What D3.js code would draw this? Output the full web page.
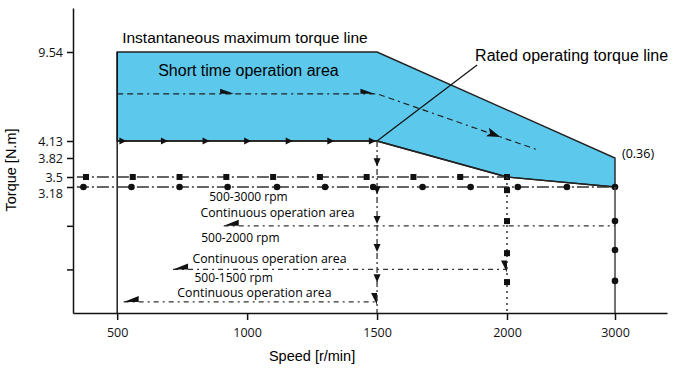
<!DOCTYPE html>
<html>
<head>
<meta charset="utf-8">
<script src="https://cdn.jsdelivr.net/npm/d3@7"></script>
<style>
body { margin: 0; background: #fff; }
svg { display: block; }
.axis path, .axis line { stroke: #111; stroke-width: 1.5; }
.axis text { font-family: "Open Sans", sans-serif; font-size: 12.5px; fill: #111; }
</style>
</head>
<body>
<div class="chart"></div>
<script>
// axis ticks
var speedTicks = [500, 1000, 1500, 2000, 3000];
var torqueTicks = [9.54, 4.13, 3.82, 3.5, 3.18, 2.2, 1.1];
var torqueTickLabels = ["9.54", "4.13", "3.82", "3.5", "3.18", "", ""];

// instantaneous maximum torque line (top of the short time area)
var maxTorque = [[500, 9.54], [1500, 9.54], [3000, 3.82]];
// rated operating torque line (bottom of the short time area)
var ratedTorque = [[500, 4.13], [1500, 4.13], [2000, 3.5], [3000, 3.18]];
var ratedArrowSpeeds = [520, 680, 840, 1000, 1160, 1320, 1480];

// short time operation path and its arrows
var shortTimePath = [[500, 7], [1500, 7], [2280, 3.97]];
var shortTimeArrows = [[950, 7], [1490, 7], [1975, 4.37]];

// 3.5 and 3.18 lines
var line35 = [[345, 3.5], [2000, 3.5]];
var squares35 = [380, 560, 740, 920, 1100, 1280, 1460, 1640, 1820, 2000];
var line318 = [[345, 3.18], [3000, 3.18]];
var circles318 = [370, 555, 740, 925, 1115, 1300, 1485, 1675, 1860, 2100, 2555, 3000];

// vertical drop lines
var drop1500 = [[1500, 4.13], [1500, 0]];
var arrows1500 = [3.75, 3.1, 2.35, 1.64, 0.88];
var drop2000 = [[2000, 3.5], [2000, 0]];
var squares2000 = [3.1, 2.32, 1.51, 0.78];
var drop3000 = [[3000, 3.18], [3000, 0]];
var circles3000 = [2.32, 1.59, 0.81];

// continuous operation areas
var contNames = ["500-3000 rpm", "500-2000 rpm", "500-1500 rpm"];
var contStart = [910, 715, 525];
var contEnd = [3000, 2000, 1500];
var contTorque = [2.2, 1.1, 0.28];

var width = 700,
    height = 372;

// both axes of the original are drawn out of proportion, so piecewise scales
var x = d3.scaleLinear()
    .domain([330, 2000, 3000, 3480])
    .range([73, 507, 615, 667]);

var y = d3.scaleLinear()
    .domain([0, 3.18, 3.5, 3.82, 4.13, 9.54, 12.2])
    .range([313, 187, 177, 158, 141, 52, 8]);

var line = d3.line()
    .x(function (d) { return x(d[0]); })
    .y(function (d) { return y(d[1]); });

function shape(pts) {
    return "M" + pts.map(function (p) { return p[0] + "," + p[1]; }).join("L") + "Z";
}

function drawChart() {
    var svg = d3.select(".chart").append("svg")
        .attr("width", width)
        .attr("height", height)
        .style("background", "#fff");

    // short time operation area
    var area = maxTorque.concat(ratedTorque.slice().reverse());
    svg.append("path")
        .attr("d", line(area) + "Z")
        .attr("fill", "#5bc8ec")
        .attr("stroke", "#222")
        .attr("stroke-width", 1.4);

    // 500 rpm boundary
    svg.append("path")
        .attr("d", line([[500, 9.54], [500, 0]]))
        .attr("stroke", "#111")
        .attr("stroke-width", 1.4);

    // rated line and its arrows
    svg.append("path")
        .attr("d", line(ratedTorque))
        .attr("fill", "none")
        .attr("stroke", "#222")
        .attr("stroke-width", 1.4);

    svg.selectAll(".rated-arrow").data(ratedArrowSpeeds)
        .enter().append("path")
        .attr("class", "rated-arrow")
        .attr("transform", function (d) { return "translate(" + x(d) + "," + y(4.13) + ")"; })
        .attr("d", shape([[-3, -3.5], [4, 0], [-3, 3.5]]))
        .attr("fill", "#111");

    // leader of the rated line label
    svg.append("path")
        .attr("d", line([[1885, 8.75], [1500, 4.13]]))
        .attr("stroke", "#111")
        .attr("stroke-width", 1.2);

    // short time operation path
    svg.append("path")
        .attr("d", line(shortTimePath))
        .attr("fill", "none")
        .attr("stroke", "#222")
        .attr("stroke-width", 1.2)
        .attr("stroke-dasharray", "6,4,6,4,6,4,2,4");

    var p1 = shortTimePath[1], p2 = shortTimePath[2];
    var slant = Math.atan2(y(p2[1]) - y(p1[1]), x(p2[0]) - x(p1[0])) * 180 / Math.PI;
    svg.selectAll(".st-arrow").data(shortTimeArrows)
        .enter().append("path")
        .attr("class", "st-arrow")
        .attr("transform", function (d, i) {
            return "translate(" + x(d[0]) + "," + y(d[1]) + ") rotate(" + (i == 2 ? slant : 0) + ")";
        })
        .attr("d", function (d, i) {
            return i == 2 ? shape([[0, 0], [-14, -5], [-11, 0], [-14, 4]]) : shape([[0, 0], [-14, 0], [-14, -5]]);
        })
        .attr("fill", "#111");

    // 3.5 and 3.18 lines
    [line35, line318].forEach(function (l) {
        svg.append("path")
            .attr("d", line(l))
            .attr("stroke", "#333")
            .attr("stroke-width", 1.3)
            .attr("stroke-dasharray", "12,3,2,3");
    });

    svg.selectAll(".sq35").data(squares35)
        .enter().append("rect")
        .attr("x", function (d) { return x(d) - 3; })
        .attr("y", y(3.5) - 3)
        .attr("width", 6).attr("height", 6)
        .attr("fill", "#111");

    svg.selectAll(".c318").data(circles318)
        .enter().append("circle")
        .attr("cx", function (d) { return x(d); })
        .attr("cy", y(3.18))
        .attr("r", 3.3)
        .attr("fill", "#111");

    // continuous operation lines
    contTorque.forEach(function (t, i) {
        svg.append("path")
            .attr("d", line([[contStart[i], t], [contEnd[i], t]]))
            .attr("stroke", "#333")
            .attr("stroke-width", 1.2)
            .attr("stroke-dasharray", "5,4,2,4");

        svg.append("path")
            .attr("transform", "translate(" + x(contStart[i]) + "," + y(t) + ")")
            .attr("d", shape([[0, 0], [15, 0], [15, -6]]))
            .attr("fill", "#111");

        if (contEnd[i] < 3000) {
            svg.append("path")
                .attr("transform", "translate(" + x(contEnd[i]) + "," + (y(t) + 3) + ")")
                .attr("d", shape([[0, 0], [0, -12], [-6, -12]]))
                .attr("fill", "#111");
        }
    });

    // drop lines
    svg.append("path")
        .attr("d", line(drop1500))
        .attr("stroke", "#333")
        .attr("stroke-width", 1.3)
        .attr("stroke-dasharray", "6,3,2,3");

    svg.selectAll(".a1500").data(arrows1500)
        .enter().append("path")
        .attr("transform", function (d) { return "translate(" + x(1500) + "," + y(d) + ")"; })
        .attr("d", shape([[-3.5, -4], [3.5, -4], [0, 4]]))
        .attr("fill", "#111");

    svg.append("path")
        .attr("d", line(drop2000))
        .attr("stroke", "#333")
        .attr("stroke-width", 1.5)
        .attr("stroke-dasharray", "2,4");

    svg.selectAll(".sq2000").data(squares2000)
        .enter().append("rect")
        .attr("x", x(2000) - 3)
        .attr("y", function (d) { return y(d) - 3; })
        .attr("width", 6).attr("height", 6)
        .attr("fill", "#111");

    svg.append("path")
        .attr("d", line(drop3000))
        .attr("stroke", "#444")
        .attr("stroke-width", 1.5);

    svg.selectAll(".c3000").data(circles3000)
        .enter().append("circle")
        .attr("cx", x(3000))
        .attr("cy", function (d) { return y(d); })
        .attr("r", 3.3)
        .attr("fill", "#111");

    // axes
    svg.append("g")
        .attr("class", "axis")
        .attr("transform", "translate(0," + y(0) + ")")
        .call(d3.axisBottom(x).tickValues(speedTicks).tickSize(7).tickSizeOuter(0).tickPadding(8).tickFormat(d3.format("d")));

    var yAxis = svg.append("g")
        .attr("class", "axis")
        .attr("transform", "translate(" + x(330) + ",0)")
        .call(d3.axisLeft(y).tickValues(torqueTicks).tickSize(6).tickSizeOuter(0).tickPadding(4)
            .tickFormat(function (d, i) { return torqueTickLabels[i]; }));
    yAxis.selectAll(".tick text").filter(function (d) { return d == 3.18; }).attr("dy", "0.85em");

    // texts
    var arial = "'Liberation Sans', Arial, sans-serif";
    var calibri = "'Open Sans', sans-serif";

    svg.append("text")
        .attr("x", x(500) + 5).attr("y", y(9.54) - 9)
        .style("font", "15.5px " + arial)
        .text("Instantaneous maximum torque line");

    svg.append("text")
        .attr("x", x(500) + 41).attr("y", y(9.54) + 24)
        .style("font", "16px " + arial)
        .text("Short time operation area");

    svg.append("text")
        .attr("x", x(1885) - 2).attr("y", y(8.75) - 4)
        .style("font", "16px " + arial)
        .text("Rated operating torque line");

    svg.append("text")
        .attr("x", x(3000) + 7).attr("y", y(3.82))
        .style("font", "12.5px " + calibri)
        .text("(0.36)");

    // labels of the continuous operation areas, anchored in chart units
    var rpmAnchor = [[1005, 2.93], [974, 1.9], [948, 0.89]];
    var areaAnchor = [[1117, 2.54], [1086, 1.36], [1028, 0.5]];
    contNames.forEach(function (n, i) {
        svg.append("text")
            .attr("x", x(rpmAnchor[i][0])).attr("y", y(rpmAnchor[i][1]))
            .attr("dy", "0.35em")
            .attr("text-anchor", "middle")
            .style("font", "12px " + calibri)
            .text(n);
        svg.append("text")
            .attr("x", x(areaAnchor[i][0])).attr("y", y(areaAnchor[i][1]))
            .attr("dy", "0.35em")
            .attr("text-anchor", "middle")
            .style("font", "12.3px " + calibri)
            .text("Continuous operation area");
    });

    svg.append("text")
        .attr("x", (x(500) + x(2000)) / 2).attr("y", 361)
        .attr("text-anchor", "middle")
        .style("font", "14.5px " + arial)
        .text("Speed [r/min]");

    svg.append("text")
        .attr("transform", "translate(16,170) rotate(-90)")
        .attr("text-anchor", "middle")
        .style("font", "14.5px " + arial)
        .text("Torque [N.m]");
}

drawChart();
</script>
</body>
</html>
